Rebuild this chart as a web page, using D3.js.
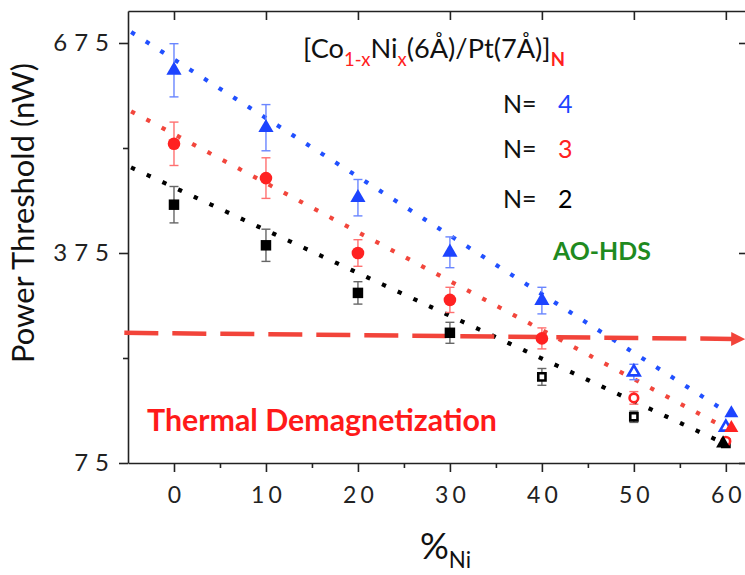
<!DOCTYPE html>
<html>
<head>
<meta charset="utf-8">
<script src="https://cdn.jsdelivr.net/npm/d3@7"></script>
<style>
  html, body { margin: 0; padding: 0; background: #fff; }
  svg { display: block; font-family: Lato, "Open Sans", sans-serif; }
</style>
</head>
<body>
<svg id="chart" width="745" height="575"></svg>
<script>
// ---------------- data ----------------
const xNi = [0, 10, 20, 30, 40, 50, 60];

const n4Values = [636, 554, 454, 376, 307, 205, 126];
const n4Errors = [38, 33, 26, 22, 19, 11, 0];
const n4Filled = [true, true, true, true, true, false, false];

const n3Values = [531, 482, 375, 308, 253, 168, 106];
const n3Errors = [31, 29, 19, 18, 15, 9, 0];
const n3Filled = [true, true, true, true, true, false, false];

const n2Values = [444, 386, 318, 261, 198, 141, 103];
const n2Errors = [26, 23, 16, 15, 12, 8, 0];
const n2Filled = [true, true, true, true, false, false, false];

// extra triangle markers near 60 %
const extraX = [60.6, 60.6, 59.7];
const extraValues = [146, 125, 103];
const extraSeries = ["N4", "N3", "N2"];

// dotted trend lines (start / end)
const trendX = [[-4.46, 59.35], [-4.46, 59.0], [-4.46, 59.0]];
const trendValues = [[689, 154], [576, 132], [496, 108]];

// thermal threshold dashed arrow
const thermalX = [-5.4, 62.1];
const thermalValues = [261, 252];

const xTicks = [0, 10, 20, 30, 40, 50, 60];
const xMinorTicks = [5, 15, 25, 35, 45, 55];
const yTicks = [75, 375, 675];
const yMinorTicks = [225, 525];

// ---------------- styling ----------------
const colors = { N4: "#1d44ff", N3: "#ff2222", N2: "#000000" };
const errColors = { N4: "#6a86ff", N3: "#ff7070", N2: "#666666" };
const lineColors = { N4: "#2150ff", N3: "#f2463c", N2: "#000000" };
const shapes = { N4: d3.symbolTriangle, N3: d3.symbolCircle, N2: d3.symbolSquare };

const svg = d3.select("#chart");
const x = d3.scaleLinear().domain([-5, 62.3]).range([128, 747]);
const y = d3.scaleLinear().domain([75, 720.7]).range([463, 11]);

const axisColor = "#222";

// ---------------- axes ----------------
function styleAxis(g) {
  g.selectAll("path.domain").attr("stroke", axisColor).attr("stroke-width", 1.6);
  g.selectAll(".tick line").attr("stroke", axisColor).attr("stroke-width", 1.6);
}

// bottom
const gB = svg.append("g").attr("transform", `translate(0,${y(75)})`)
  .call(d3.axisBottom(x).tickValues(xTicks).tickSize(9).tickSizeOuter(0).tickPadding(15));
styleAxis(gB);
gB.selectAll(".tick text").attr("font-size", 23).attr("fill", "#222")
  .attr("font-family", "Lato, sans-serif").style("letter-spacing", "4px").attr("dx", "2px");
svg.append("g").attr("transform", `translate(0,${y(75)})`)
  .call(d3.axisBottom(x).tickValues(xMinorTicks).tickSize(5).tickFormat(""))
  .call(g => g.select(".domain").remove()).call(styleAxis);

// top
const gT = svg.append("g").attr("transform", `translate(0,${y(720.7)})`)
  .call(d3.axisTop(x).tickValues(xTicks).tickSize(-9).tickSizeOuter(0).tickFormat(""));
styleAxis(gT);

// left
const gL = svg.append("g").attr("transform", `translate(${x(-5)},0)`)
  .call(d3.axisLeft(y).tickValues(yTicks).tickSize(9).tickSizeOuter(0).tickPadding(3));
styleAxis(gL);
gL.selectAll(".tick text").attr("font-size", 24).attr("fill", "#222")
  .attr("font-family", "Lato, sans-serif").style("letter-spacing", "7px");
svg.append("g").attr("transform", `translate(${x(-5)},0)`)
  .call(d3.axisLeft(y).tickValues(yMinorTicks).tickSize(5).tickFormat(""))
  .call(g => g.select(".domain").remove()).call(styleAxis);

// right
const gR = svg.append("g").attr("transform", `translate(${x(62.3)},0)`)
  .call(d3.axisRight(y).tickValues(yTicks).tickSize(-8).tickSizeOuter(0).tickFormat(""));
styleAxis(gR);

// ---------------- trend lines ----------------
const seriesKeys = ["N4", "N3", "N2"];
seriesKeys.forEach((k, i) => {
  const pts = trendX[i].map((xv, j) => [x(xv), y(trendValues[i][j])]);
  svg.append("path")
    .attr("d", d3.line()(pts))
    .attr("fill", "none")
    .attr("stroke", lineColors[k])
    .attr("stroke-width", 4.2)
    .attr("stroke-linecap", "square")
    .attr("stroke-dasharray", "0.1 17.2");
});

// ---------------- thermal dashed arrow ----------------
(function () {
  const x0 = x(thermalX[0]), y0 = y(thermalValues[0]);
  const x1 = x(thermalX[1]), y1 = y(thermalValues[1]);
  const head = 14;
  const ang = Math.atan2(y1 - y0, x1 - x0);
  const bx = x1 - head * Math.cos(ang), by = y1 - head * Math.sin(ang);
  svg.append("path")
    .attr("d", d3.line()([[x0, y0], [bx + 2, by]]))
    .attr("stroke", "#f2443a").attr("stroke-width", 4.5)
    .attr("stroke-dasharray", "34 14").attr("fill", "none");
  const px = -Math.sin(ang) * 7, py = Math.cos(ang) * 7;
  svg.append("path")
    .attr("d", `M${x1},${y1}L${bx + px},${by + py}L${bx - px},${by - py}Z`)
    .attr("fill", "#f2443a");
})();

// ---------------- points ----------------
const seriesData = {
  N4: { v: n4Values, e: n4Errors, f: n4Filled },
  N3: { v: n3Values, e: n3Errors, f: n3Filled },
  N2: { v: n2Values, e: n2Errors, f: n2Filled }
};

function drawError(k, xv, val, err) {
  if (!err) return;
  const cx = x(xv), yt = y(val + err), yb = y(val - err);
  const g = svg.append("g").attr("stroke", errColors[k]).attr("stroke-width", 1.4);
  g.append("line").attr("x1", cx).attr("x2", cx).attr("y1", yt).attr("y2", yb);
  g.append("line").attr("x1", cx - 4.5).attr("x2", cx + 4.5).attr("y1", yt).attr("y2", yt);
  g.append("line").attr("x1", cx - 4.5).attr("x2", cx + 4.5).attr("y1", yb).attr("y2", yb);
}

function drawMarker(k, shape, xv, val, filled, sz) {
  const sym = d3.symbol().type(shape).size(sz);
  const p = svg.append("path")
    .attr("d", sym())
    .attr("transform", `translate(${x(xv)},${y(val)})`);
  if (filled) p.attr("fill", colors[k]);
  else p.attr("fill", "#fff").attr("stroke", colors[k]).attr("stroke-width", 2.6);
}

seriesKeys.forEach(k => {
  const s = seriesData[k];
  xNi.forEach((xv, i) => drawError(k, xv, s.v[i], s.e[i]));
});
seriesKeys.slice().reverse().forEach(k => {
  const s = seriesData[k];
  xNi.forEach((xv, i) => {
    const filled = s.f[i];
    let sz;
    if (k === "N4") sz = filled ? 100 : 58;
    else if (k === "N3") sz = filled ? 125 : 58;
    else sz = filled ? 110 : 52;
    drawMarker(k, shapes[k], xv, s.v[i], filled, sz);
  });
});
extraX.forEach((xv, i) => {
  drawMarker(extraSeries[i], d3.symbolTriangle, xv, extraValues[i], true, 85);
});

// ---------------- texts ----------------
function applyRel(sel, fs) {
  sel.attr("font-size", fs);
  sel.selectAll("tspan").each(function () {
    const t = d3.select(this);
    const r = t.attr("data-rel");
    if (r) t.attr("font-size", fs * parseFloat(r));
  });
}
function fitWidth(sel, target) {
  const fs = parseFloat(sel.attr("font-size"));
  applyRel(sel, fs);
  const w = sel.node().getBBox().width;
  applyRel(sel, fs * target / w);
}

// y axis title
const yt = svg.append("text")
  .attr("transform", `translate(34,213) rotate(-90)`)
  .attr("text-anchor", "middle").attr("font-size", 24).attr("fill", "#111")
  .text("Power Threshold (nW)");
fitWidth(yt, 300);

// x axis title
const xt = svg.append("text").attr("x", 420).attr("y", 559).attr("font-size", 36).attr("fill", "#111");
xt.append("tspan").text("%");
xt.append("tspan").attr("data-rel", 0.62).attr("dy", 9).text("Ni");
applyRel(xt, 36);

// title
const tt = svg.append("text").attr("x", 303).attr("y", 58).attr("font-size", 24).attr("fill", "#111");
tt.append("tspan").text("[Co");
tt.append("tspan").attr("data-rel", 0.68).attr("fill", "#ff2020").attr("dy", 8).text("1-x");
tt.append("tspan").attr("dy", -8).text("Ni");
tt.append("tspan").attr("data-rel", 0.68).attr("fill", "#ff2020").attr("dy", 8).text("x");
tt.append("tspan").attr("dy", -8).text("(6Å)/Pt(7Å)]");
tt.append("tspan").attr("data-rel", 0.68).attr("fill", "#ff2020").attr("font-weight", "bold").attr("dy", 8).text("N");
fitWidth(tt, 262);

// N= legend
const legend = [
  { label: "4", color: colors.N4, yy: 113 },
  { label: "3", color: colors.N3, yy: 158 },
  { label: "2", color: "#000", yy: 208 }
];
legend.forEach(d => {
  svg.append("text").attr("x", 503).attr("y", d.yy).attr("font-size", 25).attr("fill", "#111").text("N=");
  svg.append("text").attr("x", 558).attr("y", d.yy).attr("font-size", 25).attr("fill", d.color).text(d.label);
});

// AO-HDS
const ao = svg.append("text").attr("x", 553).attr("y", 260).attr("font-size", 22)
  .attr("font-weight", "bold").attr("fill", "#1f8a1f").text("AO-HDS");
fitWidth(ao, 99);

// Thermal Demagnetization
const th = svg.append("text").attr("x", 147).attr("y", 431).attr("font-size", 24)
  .attr("font-weight", "bold").attr("fill", "#ff1a1a").text("Thermal Demagnetization");
fitWidth(th, 350);
</script>
</body>
</html>
